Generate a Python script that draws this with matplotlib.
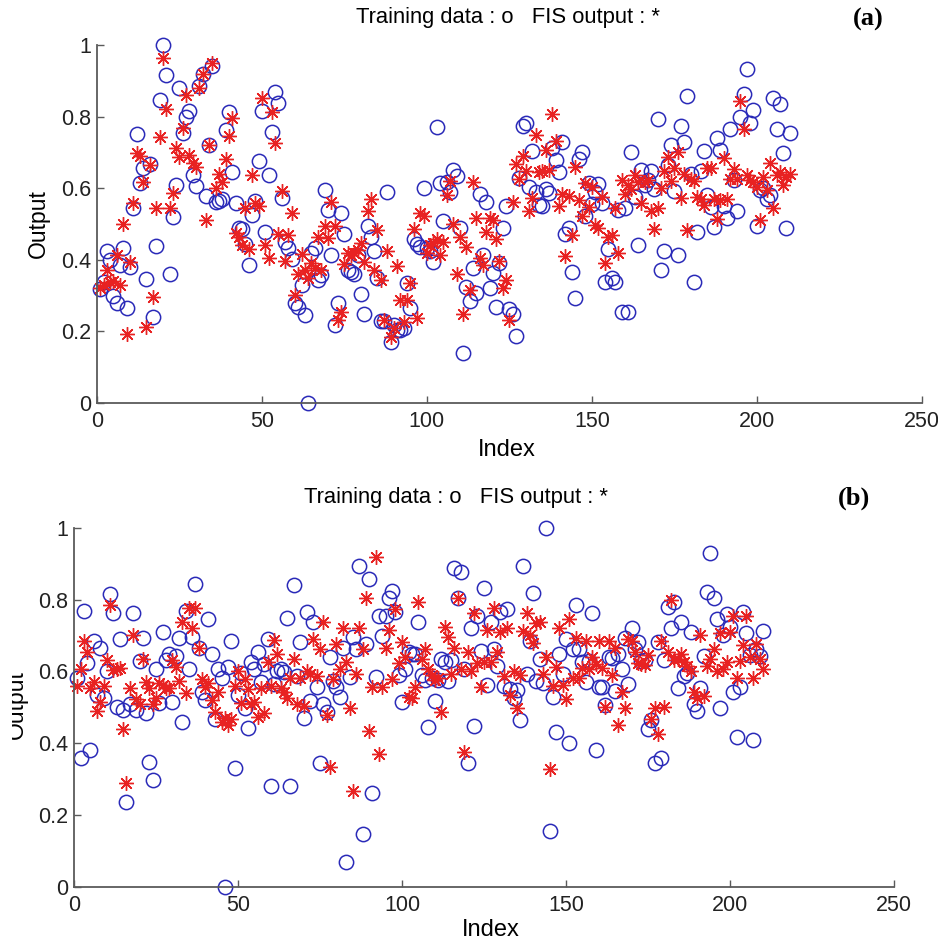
import numpy as np
import matplotlib
matplotlib.use("Agg")
import matplotlib.pyplot as plt
from matplotlib.patches import Rectangle

# values, index runs 1..N
a_training = [
    0.318, 0.339, 0.425, 0.40, 0.30, 0.278, 0.385, 0.434, 0.264, 0.38,
    0.544, 0.751, 0.614, 0.656, 0.346, 0.667, 0.241, 0.438, 0.845, 1.0,
    0.916, 0.36, 0.52, 0.61, 0.88, 0.753, 0.80, 0.816, 0.637, 0.607,
    0.886, 0.918, 0.579, 0.722, 0.942, 0.562, 0.565, 0.57, 0.763, 0.814,
    0.646, 0.56, 0.488, 0.486, 0.443, 0.385, 0.525, 0.565, 0.676, 0.816,
    0.479, 0.637,
    0.756, 0.868, 0.837, 0.572, 0.449, 0.434, 0.402, 0.278, 0.269, 0.33,
    0.246, 0.0, 0.418, 0.434, 0.344, 0.358, 0.595, 0.539, 0.413, 0.218,
    0.278, 0.532, 0.471, 0.372, 0.365, 0.36, 0.414, 0.304, 0.248, 0.495,
    0.465, 0.425, 0.35, 0.229, 0.229, 0.59, 0.17, 0.218, 0.204, 0.204,
    0.209, 0.334, 0.265, 0.458, 0.444, 0.437, 0.60, 0.432, 0.425, 0.393,
    0.772, 0.614, 0.508,
    0.618, 0.59, 0.651, 0.635, 0.49, 0.139, 0.325, 0.285, 0.376, 0.306,
    0.583, 0.414, 0.562, 0.32, 0.362, 0.269, 0.39, 0.488, 0.551, 0.263,
    0.248, 0.188, 0.628, 0.775, 0.781, 0.604, 0.704, 0.59, 0.553, 0.551,
    0.598, 0.586, 0.711, 0.679, 0.646, 0.73, 0.471, 0.488, 0.365, 0.294,
    0.682, 0.702, 0.521, 0.614, 0.555, 0.59, 0.611, 0.558, 0.337, 0.43,
    0.348, 0.339, 0.54, 0.255,
    0.544, 0.253, 0.702, 0.576, 0.44, 0.651, 0.61, 0.623, 0.648, 0.598,
    0.793, 0.372, 0.425, 0.665, 0.721, 0.592, 0.414, 0.775, 0.728, 0.858,
    0.639, 0.337, 0.479, 0.648, 0.704, 0.581, 0.548, 0.493, 0.741, 0.707,
    0.551, 0.518, 0.765, 0.623, 0.535, 0.80, 0.862, 0.933, 0.781, 0.818,
    0.495, 0.595, 0.60, 0.57, 0.581, 0.851, 0.765, 0.834, 0.698, 0.49,
    0.753,
]
a_fis = [
    0.32, 0.33, 0.371, 0.339, 0.34, 0.413, 0.33, 0.499, 0.193, 0.395,
    0.558, 0.697, 0.69, 0.618, 0.213, 0.665, 0.297, 0.544, 0.742, 0.965,
    0.821, 0.546, 0.586, 0.711, 0.688, 0.769, 0.86, 0.693, 0.67, 0.66,
    0.88, 0.92, 0.511, 0.722, 0.951, 0.60, 0.64, 0.618, 0.682, 0.746,
    0.795, 0.474, 0.465, 0.44, 0.544, 0.43, 0.637, 0.558, 0.55, 0.851,
    0.44, 0.404,
    0.812, 0.727, 0.471, 0.592, 0.397, 0.468, 0.53, 0.302, 0.36, 0.415,
    0.372, 0.348, 0.39, 0.376, 0.465, 0.372, 0.495, 0.46, 0.561, 0.495,
    0.232, 0.255, 0.387, 0.418, 0.413, 0.418, 0.428, 0.446, 0.395, 0.535,
    0.57, 0.372, 0.483, 0.344, 0.232, 0.425, 0.185, 0.209, 0.384, 0.288,
    0.225, 0.288, 0.334, 0.486, 0.238, 0.53, 0.521, 0.418, 0.441, 0.446,
    0.458, 0.414,
    0.449, 0.581, 0.62, 0.499, 0.36, 0.465, 0.25, 0.437, 0.316, 0.618,
    0.516, 0.406, 0.386, 0.479, 0.518, 0.511, 0.458, 0.397, 0.32, 0.344,
    0.232, 0.561, 0.667, 0.626, 0.691, 0.648, 0.536, 0.572, 0.75, 0.646,
    0.648, 0.707, 0.651, 0.807, 0.732, 0.551, 0.583, 0.412, 0.579, 0.47,
    0.66, 0.567, 0.521, 0.614, 0.548, 0.604, 0.496, 0.488, 0.576, 0.39,
    0.465, 0.47,
    0.546, 0.418, 0.623, 0.583, 0.609, 0.598, 0.637, 0.618, 0.558, 0.618,
    0.623, 0.535, 0.486, 0.546, 0.60, 0.648, 0.688, 0.62, 0.657, 0.70,
    0.574, 0.639, 0.483, 0.626, 0.62, 0.576, 0.57, 0.553, 0.657, 0.657,
    0.57, 0.514, 0.567, 0.683, 0.57, 0.626, 0.655, 0.626, 0.844, 0.765,
    0.637, 0.623, 0.618, 0.604, 0.511, 0.632, 0.595, 0.67, 0.544, 0.637,
    0.646, 0.61, 0.63, 0.64,
]
b_training = [
    0.581, 0.36, 0.768, 0.625, 0.381, 0.685, 0.534, 0.666, 0.527, 0.601,
    0.815, 0.762, 0.502, 0.69, 0.492, 0.235, 0.508, 0.762, 0.492, 0.629,
    0.694, 0.483, 0.348, 0.297, 0.607, 0.511, 0.709, 0.632, 0.648, 0.514,
    0.644, 0.692, 0.46, 0.768, 0.607, 0.697, 0.843, 0.666, 0.543, 0.52,
    0.746, 0.648, 0.467, 0.607, 0.582, 0.0, 0.613, 0.685, 0.332, 0.534,
    0.597, 0.499, 0.443,
    0.627, 0.608, 0.655, 0.571, 0.62, 0.69, 0.281, 0.564, 0.60, 0.607,
    0.599, 0.748, 0.281, 0.841, 0.588, 0.683, 0.471, 0.766, 0.517, 0.739,
    0.557, 0.346, 0.508, 0.488, 0.641, 0.573, 0.557, 0.529, 0.666, 0.068,
    0.585, 0.697, 0.662, 0.895, 0.148, 0.678, 0.859, 0.26, 0.585, 0.755,
    0.70, 0.755, 0.804, 0.824, 0.766, 0.59, 0.516, 0.608, 0.653, 0.65,
    0.648, 0.737, 0.59,
    0.576, 0.446, 0.581, 0.517, 0.576, 0.634, 0.627, 0.573, 0.632, 0.889,
    0.804, 0.878, 0.608, 0.346, 0.722, 0.449, 0.755, 0.657, 0.832, 0.562,
    0.737, 0.662, 0.616, 0.766, 0.56, 0.774, 0.551, 0.527, 0.548, 0.464,
    0.895, 0.592, 0.685, 0.82, 0.573, 0.636, 0.567, 1.0, 0.155, 0.529,
    0.43, 0.648, 0.592, 0.69, 0.40, 0.662, 0.785, 0.662, 0.627, 0.57,
    0.629, 0.762, 0.381, 0.557,
    0.557, 0.506, 0.641, 0.638, 0.545, 0.648, 0.607, 0.692, 0.564, 0.72,
    0.664, 0.681, 0.63, 0.632, 0.441, 0.464, 0.346, 0.681, 0.359, 0.632,
    0.78, 0.72, 0.793, 0.553, 0.737, 0.588, 0.597, 0.711, 0.508, 0.49,
    0.555, 0.644, 0.822, 0.929, 0.806, 0.746, 0.497, 0.702, 0.759, 0.725,
    0.542, 0.418, 0.557, 0.766, 0.706, 0.646, 0.409, 0.664, 0.644, 0.713,
]
b_fis = [
    0.56, 0.608, 0.685, 0.653, 0.555, 0.57, 0.49, 0.514, 0.56, 0.632,
    0.785, 0.604, 0.607, 0.609, 0.439, 0.288, 0.553, 0.703, 0.523, 0.508,
    0.635, 0.57, 0.553, 0.508, 0.527, 0.567, 0.562, 0.555, 0.553, 0.632,
    0.613, 0.573, 0.737, 0.539, 0.778, 0.72, 0.778, 0.666, 0.579, 0.557,
    0.567, 0.52, 0.488, 0.543, 0.46, 0.469, 0.45, 0.467, 0.56, 0.60,
    0.511, 0.58, 0.55,
    0.508, 0.514, 0.474, 0.553, 0.483, 0.627, 0.56, 0.687, 0.65, 0.553,
    0.543, 0.527, 0.582, 0.636, 0.508, 0.581, 0.504, 0.60, 0.592, 0.69,
    0.588, 0.662, 0.739, 0.48, 0.334, 0.579, 0.678, 0.607, 0.722, 0.627,
    0.499, 0.266, 0.592, 0.72, 0.662, 0.806, 0.434, 0.557, 0.92, 0.371,
    0.557, 0.666, 0.715, 0.579, 0.774, 0.625, 0.683, 0.641, 0.529, 0.525,
    0.557, 0.793, 0.636, 0.662,
    0.608, 0.59, 0.575, 0.581, 0.488, 0.725, 0.697, 0.592, 0.666, 0.804,
    0.608, 0.376, 0.653, 0.60, 0.762, 0.625, 0.557, 0.627, 0.715, 0.627,
    0.778, 0.655, 0.711, 0.588, 0.722, 0.534, 0.601, 0.499, 0.59, 0.713,
    0.762, 0.703, 0.68, 0.734, 0.737, 0.592, 0.641, 0.328, 0.56, 0.613,
    0.72, 0.562, 0.523, 0.746, 0.582, 0.692, 0.581, 0.61, 0.685, 0.608,
    0.64, 0.62,
    0.685, 0.61, 0.502, 0.685, 0.59, 0.666, 0.452, 0.542, 0.499, 0.69,
    0.685, 0.653, 0.625, 0.62, 0.618, 0.646, 0.467, 0.499, 0.427, 0.685,
    0.502, 0.653, 0.799, 0.632, 0.636, 0.65, 0.627, 0.616, 0.60, 0.542,
    0.527, 0.703, 0.532, 0.616, 0.634, 0.664, 0.60, 0.706, 0.608, 0.627,
    0.709, 0.755, 0.583, 0.629, 0.675, 0.755, 0.641, 0.583, 0.678, 0.634,
    0.607,
]

x_ticks = [0, 50, 100, 150, 200, 250]
y_ticks = [0, 0.2, 0.4, 0.6, 0.8, 1]
title_text = "Training data : o   FIS output : *"

plt.rcParams["font.family"] = ["Liberation Sans", "DejaVu Sans"]

W, H = 938, 942
fig = plt.figure(figsize=(W / 100, H / 100), dpi=100)


def px_box(l, t, r, b):
    return [l / W, 1 - b / H, (r - l) / W, (b - t) / H]


def fx(x):
    return x / W


def fy(y):
    return 1 - y / H


circle_col = "#2a2ab8"
star_col = "#e82222"
spine_col = "#5a5a5a"


def draw_panel(ax, train, fis):
    ax.plot(np.arange(1, len(train) + 1), train, linestyle="none",
            marker="o", markersize=10.3, markerfacecolor="none",
            markeredgecolor=circle_col, markeredgewidth=1.1, clip_on=False)
    ax.plot(np.arange(1, len(fis) + 1), fis, linestyle="none",
            marker=(8, 2, 0), markersize=10.5, color=star_col,
            markeredgewidth=1.0, clip_on=False)
    ax.set_xlim(0, 250)
    ax.set_ylim(0, 1)
    ax.set_xticks(x_ticks)
    ax.set_yticks(y_ticks)
    ax.set_xticklabels([str(t) for t in x_ticks])
    ax.set_yticklabels(["%g" % t for t in y_ticks])
    for s in ["top", "right"]:
        ax.spines[s].set_visible(False)
    for s in ["left", "bottom"]:
        ax.spines[s].set_color(spine_col)
        ax.spines[s].set_linewidth(1.3)
    ax.tick_params(direction="in", length=5, width=1.0, color=spine_col,
                   labelsize=15.5, labelcolor="#222222")
    ax.tick_params(axis="x", pad=6)
    ax.tick_params(axis="y", pad=4)


ax_a = fig.add_axes(px_box(97, 45, 921.7, 403))
draw_panel(ax_a, a_training, a_fis)
ax_a.set_ylabel("Output", fontsize=16.5, labelpad=8)

ax_b = fig.add_axes(px_box(74, 528, 894, 886.7))
draw_panel(ax_b, b_training, b_fis)

# titles, labels and panel tags
fig.text(fx(508), fy(18), title_text, ha="center", va="center", fontsize=15.8)
fig.text(fx(868), fy(19), "(a)", ha="center", va="center", fontsize=19,
         fontweight="bold", family="Liberation Serif")
fig.text(fx(507), fy(450), "Index", ha="center", va="center", fontsize=17)

fig.text(fx(456), fy(497), title_text, ha="center", va="center", fontsize=15.8)
fig.text(fx(854), fy(498), "(b)", ha="center", va="center", fontsize=19,
         fontweight="bold", family="Liberation Serif")
fig.text(fx(491), fy(930), "Index", ha="center", va="center", fontsize=17)

# the lower y label is cut off at the left edge in the source image
fig.text(fx(16), fy(705), "Output", ha="center", va="center", rotation=90,
         fontsize=16.5)
fig.add_artist(Rectangle((0, fy(780)), fx(12), fy(630) - fy(780),
                         transform=fig.transFigure, facecolor="white",
                         edgecolor="none", zorder=10))

fig.savefig("out.png", dpi=100)
